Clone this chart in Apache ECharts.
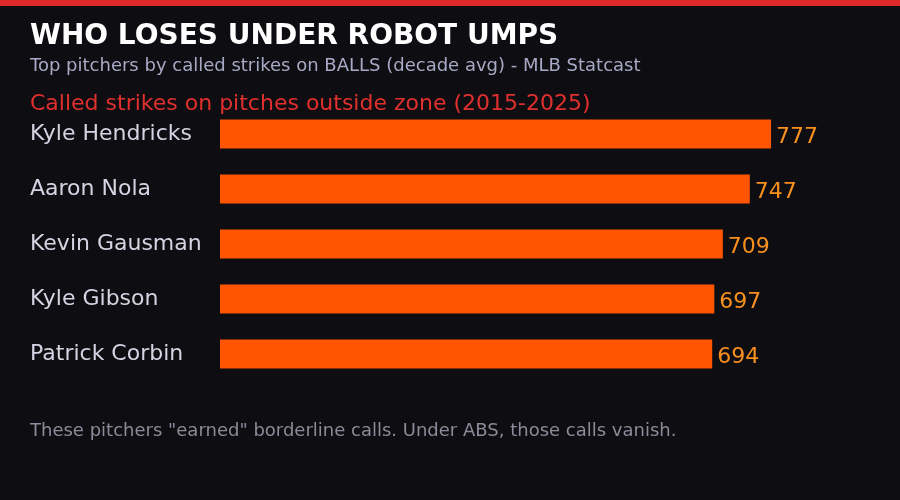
<!DOCTYPE html>
<html>
<head>
<meta charset="utf-8">
<script src="https://cdn.jsdelivr.net/npm/echarts@6/dist/echarts.min.js"></script>
<style>
  html, body { margin: 0; padding: 0; background: #0d0d12; }
  #chart { width: 900px; height: 500px; }
</style>
</head>
<body>
<div id="chart"></div>
<script>
// pitchers, top first
const pitchers = ['Kyle Hendricks', 'Aaron Nola', 'Kevin Gausman', 'Kyle Gibson', 'Patrick Corbin'];
const calledStrikes = [777, 747, 709, 697, 694];

const font = 'DejaVu Sans';

function txt(text, y, size, color, weight) {
    return {
        type: 'text',
        style: {
            x: 30, y: y, text: text, fill: color,
            font: (weight || 'normal') + ' ' + size + 'px "DejaVu Sans"',
            verticalAlign: 'middle'
        }
    };
}

const chart = echarts.init(document.getElementById('chart'));

chart.setOption({
    backgroundColor: '#0d0d12',
    animation: false,
    graphic: [
        { type: 'rect', shape: { x: 0, y: 0, width: 900, height: 6 }, style: { fill: '#e0282a' } },
        txt('WHO LOSES UNDER ROBOT UMPS', 37, 28, '#ffffff', 'bold'),
        txt('Top pitchers by called strikes on BALLS (decade avg) - MLB Statcast', 66, 18, '#a9a9c6'),
        txt('Called strikes on pitches outside zone (2015-2025)', 104, 22, '#e0302e'),
        txt('These pitchers "earned" borderline calls. Under ABS, those calls vanish.', 431, 18, '#8b8b99')
    ],
    grid: { left: 220, top: 106.5, width: 638.3, height: 275 },
    xAxis: {
        type: 'value', min: 0, max: 900,
        show: false
    },
    yAxis: {
        type: 'category',
        data: pitchers,
        inverse: true,
        axisLine: { show: false },
        axisTick: { show: false },
        splitLine: { show: false },
        axisLabel: {
            align: 'left',
            margin: 190,
            color: '#d4d4e2',
            fontFamily: font,
            fontSize: 22
        }
    },
    series: [{
        type: 'bar',
        data: calledStrikes,
        barWidth: 29,
        itemStyle: { color: '#ff5500' },
        label: {
            show: true,
            position: 'right',
            distance: 5,
            offset: [0, 3],
            color: '#f7901e',
            fontFamily: font,
            fontSize: 22
        }
    }]
});
</script>
</body>
</html>
